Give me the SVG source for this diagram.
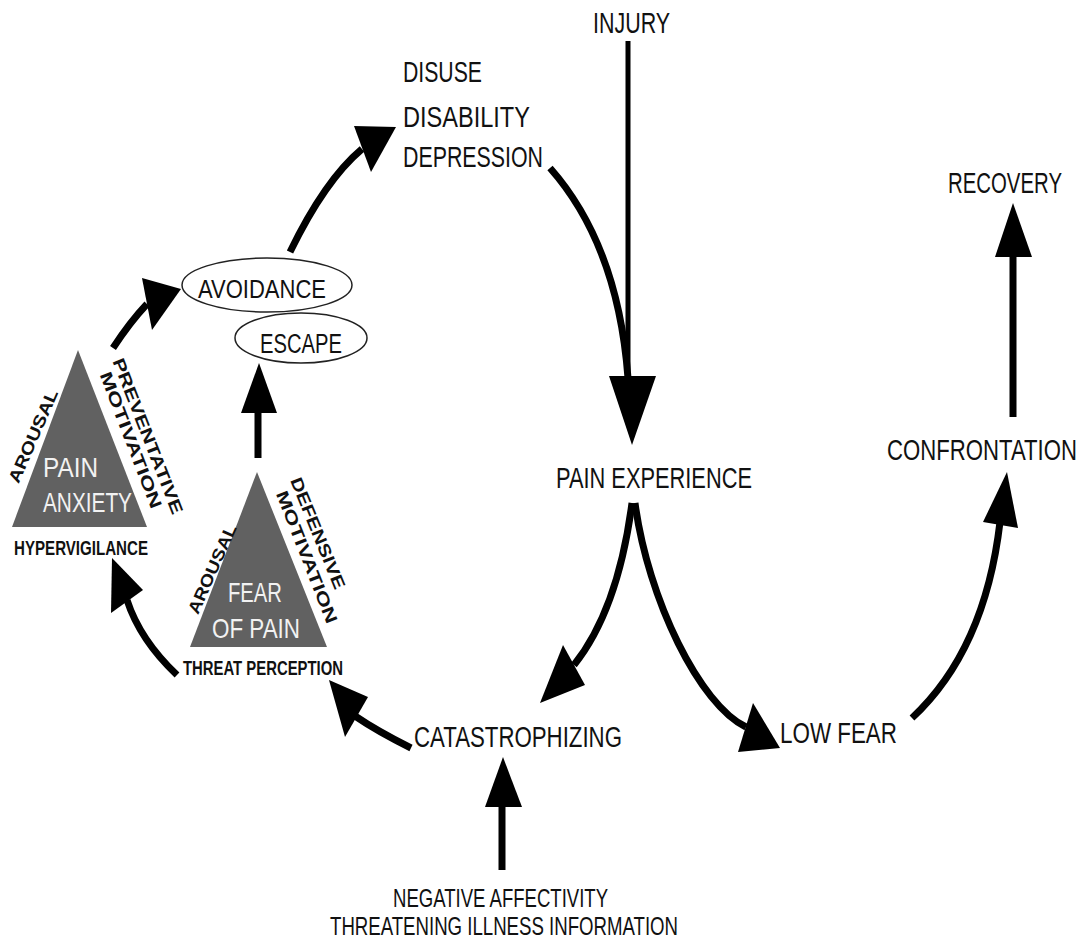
<svg xmlns="http://www.w3.org/2000/svg" width="1081" height="939" viewBox="0 0 1081 939">
<style>
.t{font-family:"Liberation Sans",Arial,sans-serif;font-size:29px;fill:#111;}
.tw{font-family:"Liberation Sans",Arial,sans-serif;font-size:28px;fill:#f2f2f2;}
.tb{font-family:"Liberation Sans",Arial,sans-serif;font-size:20px;font-weight:bold;fill:#111;}
.tr{font-family:"Liberation Sans",Arial,sans-serif;font-size:17px;font-weight:bold;fill:#111;}
.tri{fill:#616161;}
.ell{fill:#fff;stroke:#222;stroke-width:1.5;}
.ln{fill:none;stroke:#000;stroke-width:7;stroke-linecap:butt;}
.ln5{fill:none;stroke:#000;stroke-width:5;}
.hd{fill:#000;}
</style>
<rect width="1081" height="939" fill="#fff"/>
<g id="connectors">
  <line class="ln5" x1="628" y1="41" x2="628" y2="380"/>
  <polygon class="hd" points="609,376 656,376 632,445"/>
  <path class="ln" d="M550,168 Q618,245 628,378"/>
  <path class="ln" d="M290,252 Q325,180 362,149"/>
  <polygon class="hd" points="354,126 396,127 371,172"/>
  <path class="ln" d="M113,348 Q130,322 147,304"/>
  <polygon class="hd" points="142,278 181,289 152,330"/>
  <line class="ln" x1="258" y1="458" x2="258" y2="410"/>
  <polygon class="hd" points="241,413 277,413 259,363"/>
  <path class="ln" d="M177,675 Q140,640 127,600"/>
  <polygon class="hd" points="143,590 111,613 112,558"/>
  <path class="ln" d="M411,748 Q377,731 355,716"/>
  <polygon class="hd" points="368,697 345,737 329,680"/>
  <path class="ln" d="M632,503 Q618,610 574,665"/>
  <polygon class="hd" points="563,645 585,685 540,703"/>
  <path class="ln" d="M635,503 C648,600 700,705 746,727"/>
  <polygon class="hd" points="753,703 738,752 780,748"/>
  <path class="ln" d="M912,718 Q985,650 1000,522"/>
  <polygon class="hd" points="983,522 1018,528 1007,472"/>
  <line class="ln" x1="1013" y1="417" x2="1013" y2="255"/>
  <polygon class="hd" points="995,257 1032,257 1013,203"/>
  <line class="ln" x1="502" y1="870" x2="502" y2="805"/>
  <polygon class="hd" points="485,807 522,807 503,757"/>
</g>
<g id="injury"><text class="t" transform="translate(593,33) scale(0.75,1)" textLength="102.7" lengthAdjust="spacingAndGlyphs">INJURY</text></g>
<g id="disuse">
  <text class="t" transform="translate(403,82) scale(0.75,1)" textLength="105.3" lengthAdjust="spacingAndGlyphs">DISUSE</text>
  <text class="t" transform="translate(403,127) scale(0.75,1)" textLength="169.3" lengthAdjust="spacingAndGlyphs">DISABILITY</text>
  <text class="t" transform="translate(403,167) scale(0.75,1)" textLength="186.7" lengthAdjust="spacingAndGlyphs">DEPRESSION</text>
</g>
<g id="recovery"><text class="t" transform="translate(948,193) scale(0.75,1)" textLength="152" lengthAdjust="spacingAndGlyphs">RECOVERY</text></g>
<g id="avoidance">
  <ellipse class="ell" cx="267" cy="285" rx="85" ry="27"/>
  <text class="t" transform="translate(198,298) scale(0.75,1)" style="font-size:26px" textLength="170.7" lengthAdjust="spacingAndGlyphs">AVOIDANCE</text>
</g>
<g id="escape">
  <ellipse class="ell" cx="301" cy="338" rx="66" ry="25"/>
  <text class="t" transform="translate(260,353) scale(0.75,1)" style="font-size:27px" textLength="109.3" lengthAdjust="spacingAndGlyphs">ESCAPE</text>
</g>
<g id="pain-experience"><text class="t" transform="translate(556,488) scale(0.75,1)" textLength="261.3" lengthAdjust="spacingAndGlyphs">PAIN EXPERIENCE</text></g>
<g id="confrontation"><text class="t" transform="translate(887,460) scale(0.75,1)" textLength="253.3" lengthAdjust="spacingAndGlyphs">CONFRONTATION</text></g>
<g id="pain-anxiety">
  <polygon class="tri" points="78,350 12,527 147,527"/>
  <text class="tw" x="43" y="477" textLength="55" lengthAdjust="spacingAndGlyphs">PAIN</text>
  <text class="tw" x="43" y="512" textLength="89" lengthAdjust="spacingAndGlyphs">ANXIETY</text>
  <text class="tb" x="14" y="555" textLength="134" lengthAdjust="spacingAndGlyphs">HYPERVIGILANCE</text>
  <text class="tr" text-anchor="middle" transform="translate(33,436) rotate(-66.5)" y="6" textLength="100" lengthAdjust="spacingAndGlyphs">AROUSAL</text>
  <text class="tr" text-anchor="middle" transform="translate(148,436) rotate(68.6)" y="6" textLength="166" lengthAdjust="spacingAndGlyphs">PREVENTATIVE</text>
  <text class="tr" text-anchor="middle" transform="translate(131,440) rotate(69)" y="6" textLength="145" lengthAdjust="spacingAndGlyphs">MOTIVATION</text>
</g>
<g id="fear-of-pain">
  <polygon class="tri" points="257,472 190,647 327,647"/>
  <text class="tw" x="228" y="602" textLength="54" lengthAdjust="spacingAndGlyphs">FEAR</text>
  <text class="tw" x="212" y="638" textLength="88" lengthAdjust="spacingAndGlyphs">OF PAIN</text>
  <text class="tb" x="183" y="675" style="font-size:21px" textLength="160" lengthAdjust="spacingAndGlyphs">THREAT PERCEPTION</text>
  <text class="tr" text-anchor="middle" transform="translate(212,569) rotate(-66)" y="6" textLength="96" lengthAdjust="spacingAndGlyphs">AROUSAL</text>
  <text class="tr" text-anchor="middle" transform="translate(318,533) rotate(67.8)" y="6" textLength="119" lengthAdjust="spacingAndGlyphs">DEFENSIVE</text>
  <text class="tr" text-anchor="middle" transform="translate(307,557) rotate(68.7)" y="6" textLength="141" lengthAdjust="spacingAndGlyphs">MOTIVATION</text>
</g>
<g id="catastrophizing"><text class="t" transform="translate(414,747) scale(0.75,1)" textLength="277.3" lengthAdjust="spacingAndGlyphs">CATASTROPHIZING</text></g>
<g id="low-fear"><text class="t" transform="translate(780,743) scale(0.75,1)" textLength="156" lengthAdjust="spacingAndGlyphs">LOW FEAR</text></g>
<g id="negative-affectivity">
  <text class="t" transform="translate(393,907) scale(0.75,1)" style="font-size:25px" textLength="286.7" lengthAdjust="spacingAndGlyphs">NEGATIVE AFFECTIVITY</text>
  <text class="t" transform="translate(330,935) scale(0.75,1)" style="font-size:25px" textLength="464" lengthAdjust="spacingAndGlyphs">THREATENING ILLNESS INFORMATION</text>
</g>
</svg>
